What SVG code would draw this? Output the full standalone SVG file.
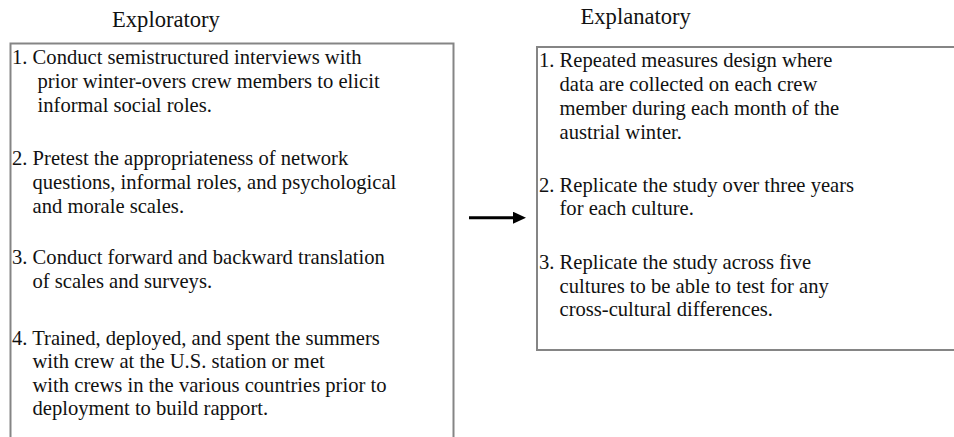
<svg xmlns="http://www.w3.org/2000/svg" width="954" height="437" viewBox="0 0 954 437">
<style>
.t{font-family:"Liberation Serif","Times New Roman",serif;font-size:20.6px;fill:#111}
.h{font-family:"Liberation Serif","Times New Roman",serif;font-size:22.6px;fill:#111}
.box{fill:#fff;stroke:#858585;stroke-width:2}
</style>
<defs>
<marker id="ah" markerWidth="13" markerHeight="12" refX="1" refY="6" orient="auto" markerUnits="userSpaceOnUse"><path d="M0,0 L13,6 L0,12 Z" fill="#000"/></marker>
</defs>
<rect width="954" height="437" fill="#fff"/>
<g id="exploratory">
<rect class="box" x="10.5" y="43.5" width="443" height="420"/>
<text class="h" x="112" y="26.5">Exploratory</text>
<text class="t" x="12" y="64">1. Conduct semistructured interviews with</text>
<text class="t" x="37.5" y="88">prior winter-overs crew members to elicit</text>
<text class="t" x="37.5" y="112">informal social roles.</text>
<text class="t" x="12" y="165">2. Pretest the appropriateness of network</text>
<text class="t" x="32.5" y="189">questions, informal roles, and psychological</text>
<text class="t" x="32.5" y="213">and morale scales.</text>
<text class="t" x="12" y="264">3. Conduct forward and backward translation</text>
<text class="t" x="32.5" y="288">of scales and surveys.</text>
<text class="t" x="12" y="345">4. Trained, deployed, and spent the summers</text>
<text class="t" x="32.5" y="368">with crew at the U.S. station or met</text>
<text class="t" x="32.5" y="392">with crews in the various countries prior to</text>
<text class="t" x="32.5" y="415">deployment to build rapport.</text>
</g>
<g id="explanatory">
<rect class="box" x="537" y="47" width="430" height="303"/>
<text class="h" x="580.5" y="23.5">Explanatory</text>
<text class="t" x="539" y="66.5">1. Repeated measures design where</text>
<text class="t" x="559.5" y="90.5">data are collected on each crew</text>
<text class="t" x="559.5" y="114.5">member during each month of the</text>
<text class="t" x="559.5" y="138.5">austrial winter.</text>
<text class="t" x="539" y="191.5">2. Replicate the study over three years</text>
<text class="t" x="559.5" y="215">for each culture.</text>
<text class="t" x="539" y="268.5">3. Replicate the study across five</text>
<text class="t" x="559.5" y="292.5">cultures to be able to test for any</text>
<text class="t" x="559.5" y="316">cross-cultural differences.</text>
</g>
<g id="connectors">
<line x1="469" y1="217.7" x2="514" y2="217.7" stroke="#000" stroke-width="3" marker-end="url(#ah)"/>
</g>
</svg>
